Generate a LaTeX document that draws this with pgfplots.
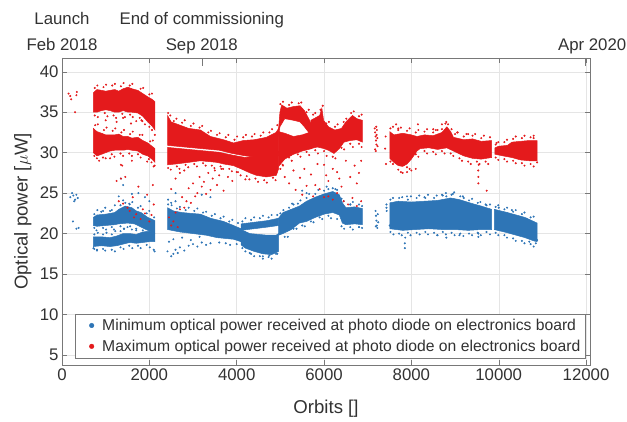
\documentclass[border=0pt]{standalone}
\usepackage{fontspec}
\setmainfont{Liberation Sans}
\usepackage{pgfplots}
\pgfplotsset{compat=1.18}
\definecolor{mblue}{RGB}{46,117,182}
\definecolor{mred}{RGB}{228,26,28}
\definecolor{axgray}{RGB}{120,120,120}
\definecolor{txtgray}{RGB}{50,50,50}
\newcommand{\dstrut}{\rule[-3.5pt]{0pt}{3.5pt}}
\pgfplotsset{
  common/.style={
    at={(0,0)}, anchor=south west,
    scale only axis, width=528pt, height=307pt,
    xmin=0, xmax=12090, ymin=3.76, ymax=41.7,
    scaled x ticks=false, scaled y ticks=false,
    axis line style={axgray},
    every tick/.style={axgray},
    /pgf/number format/assume math mode=true,
    ticklabel style={font=\fontsize{16.8}{18}\selectfont, text=txtgray},
  },
  fillred/.style={fill=mred, draw=mred, line width=0.5pt, forget plot},
  fillblue/.style={fill=mblue, draw=mblue, line width=0.5pt, forget plot},
  pts/.style={only marks, mark=*, mark size=0.8pt, mark options={draw=none}},
}
\begin{document}
\begin{tikzpicture}
\path[use as bounding box] (-62pt,-57pt) rectangle (565pt,365pt);
\begin{axis}[common,
  xtick={0,2000,...,12000}, ytick={5,10,...,40},
  xticklabel style={/pgf/number format/1000 sep={}},
  major tick length=5pt,
  grid=major, grid style={black!10},
  xlabel={Orbits []}, ylabel={Optical power [$\mu$W]},
  label style={font=\fontsize{18.6}{20}\selectfont, text=txtgray},
  xlabel style={at={(axis description cs:0.5,-0.143)}, anchor=center},
  ylabel style={at={(axis description cs:-0.074,0.5)}, anchor=center},
  legend style={at={(axis description cs:0.0246,0.0228)}, anchor=south west,
    draw=axgray, font=\fontsize{15.7}{16}\selectfont, text=txtgray,
    row sep=4pt, inner xsep=3pt, inner ysep=3pt},
  legend cell align=left,
  legend image code/.code={\path[draw=none] (0pt,0pt) -- (22pt,0pt); \fill (13.5pt,0pt) circle (2.3pt);},
]
% --- dense cores, maximum (red)
\addplot[fillred] coordinates {(717,37.4)(800,37.8)(906,37.7)(1000,37.6)(1100,37.7)(1208,37.8)(1300,37.6)(1400,37.9)(1510,38.1)(1600,37.9)(1737,37.7)(1850,37.3)(1963,36.9)(2060,36.6)(2129,36.3)
 (2129,32.8)(2060,33.3)(1963,33.8)(1850,34.5)(1737,34.9)(1600,35.0)(1510,35.0)(1400,35.2)(1300,35.0)(1208,35.0)(1100,35.2)(1000,35.3)(906,35.2)(800,35.0)(717,35.0)} --cycle;
\addplot[fillred] coordinates {(717,33.0)(800,32.6)(906,32.4)(1000,32.2)(1100,32.2)(1208,32.2)(1300,32.3)(1400,32.0)(1510,32.0)(1600,31.8)(1737,31.9)(1850,31.5)(1963,31.2)(2060,30.8)(2129,30.5)
 (2129,28.8)(2060,29.2)(1963,29.6)(1850,29.8)(1737,30.2)(1600,30.3)(1510,30.4)(1400,30.3)(1300,30.3)(1208,30.3)(1100,30.2)(1000,30.0)(906,29.8)(800,29.6)(717,30.0)} --cycle;
\addplot[fillred] coordinates {(2416,34.6)(2500,33.8)(2700,33.4)(2900,33.0)(3171,32.8)(3400,32.0)(3700,31.6)(3926,31.2)(4150,31.5)(4400,31.6)(4681,31.9)(4900,32.5)(4960,33.0)
 (4960,29.6)(4700,29.6)(4400,29.5)(4200,29.6)(3900,29.9)(3600,30.3)(3000,30.6)(2416,30.9)} --cycle;
\addplot[fillred] coordinates {(2416,30.65)(3000,30.35)(3600,30.05)(3900,29.7)(4200,29.4)(4600,29.8)(4960,30.2)
 (4960,28.0)(4908,27.2)(4681,27.0)(4450,27.2)(4304,27.5)(4100,28.0)(3926,28.4)(3700,28.6)(3549,28.8)(3171,29.0)(2900,28.8)(2600,28.6)(2416,28.5)} --cycle;
\addplot[fillred] coordinates {(4960,33.0)(4990,35.0)(5030,35.9)(5150,35.5)(5300,35.7)(5450,35.8)(5550,35.2)(5650,34.2)(5720,33.4)
 (5720,31.8)(5650,32.5)(5550,33.2)(5450,33.8)(5300,34.0)(5100,34.2)(4990,33.2)(4960,32.0)} --cycle;
\addplot[fillred] coordinates {(4960,32.6)(5100,32.4)(5300,32.0)(5500,32.2)(5720,32.6)
 (5720,30.5)(5500,30.2)(5300,29.8)(5100,29.2)(4960,28.3)} --cycle;
\addplot[fillred] coordinates {(5696,34.0)(5800,34.3)(5900,34.6)(5950,35.5)(5990,34.0)(6100,33.2)(6250,32.8)(6400,33.0)(6500,33.8)(6650,34.6)(6750,34.2)(6880,34.0)
 (6880,31.3)(6750,31.6)(6600,31.5)(6456,31.3)(6350,30.5)(6228,29.9)(6100,30.3)(6000,30.5)(5850,30.7)(5696,30.5)} --cycle;
\addplot[fillred] coordinates {(7505,32.6)(7600,32.2)(7800,32.4)(8000,32.2)(8128,32.0)(8300,32.2)(8500,32.1)(8700,32.5)(8812,33.2)(8900,32.6)(8964,31.9)(9200,31.6)(9400,31.7)(9600,31.4)(9838,31.5)
 (9838,29.4)(9600,29.2)(9400,29.3)(9200,29.6)(8964,30.2)(8812,30.6)(8600,30.4)(8400,30.6)(8200,30.5)(8128,30.2)(8000,29.2)(7900,28.6)(7800,28.3)(7700,28.4)(7600,28.8)(7505,29.3)} --cycle;
\addplot[fillred] coordinates {(9914,30.6)(10000,30.8)(10200,30.9)(10300,31.3)(10500,31.4)(10700,31.5)(10880,31.5)
 (10880,29.0)(10700,29.0)(10500,29.1)(10300,29.4)(10100,29.6)(9914,29.8)} --cycle;
% --- dense cores, minimum (blue)
\addplot[fillblue] coordinates {(717,22.0)(800,22.3)(1000,22.4)(1208,22.6)(1300,23.0)(1450,23.4)(1600,23.2)(1700,22.8)(1812,22.6)(1963,22.0)(2129,21.6)
 (2129,20.0)(1963,20.4)(1812,20.8)(1661,21.2)(1500,21.3)(1300,21.2)(1208,21.1)(1000,21.0)(800,20.9)(717,21.0)} --cycle;
\addplot[fillblue] coordinates {(717,19.6)(900,19.6)(1100,19.5)(1250,19.7)(1400,20.0)(1550,20.0)(1700,19.9)(1850,20.2)(2000,20.3)(2129,20.0)
 (2129,19.0)(2000,19.0)(1850,18.9)(1700,18.8)(1550,18.9)(1400,18.7)(1250,18.5)(1100,18.4)(900,18.5)(717,18.4)} --cycle;
\addplot[fillblue] coordinates {(2416,23.2)(2550,22.8)(2750,22.6)(2950,22.5)(3171,22.4)(3400,21.9)(3700,21.5)(3926,21.0)(4100,20.6)
 (4100,19.0)(3926,19.3)(3550,19.5)(3300,19.8)(3000,20.0)(2700,20.2)(2416,20.5)} --cycle;
\addplot[fillblue] coordinates {(4100,20.5)(4300,20.0)(4500,19.9)(4700,19.8)(4900,19.8)(4960,20.0)
 (4960,17.8)(4800,17.4)(4600,17.5)(4400,17.8)(4200,18.2)(4100,18.6)} --cycle;
\addplot[fillblue] coordinates {(4100,21.2)(4400,21.4)(4700,21.6)(4960,21.9)
 (4960,21.0)(4700,20.8)(4400,20.6)(4100,20.4)} --cycle;
\addplot[fillblue] coordinates {(4960,21.9)(5059,22.6)(5250,23.0)(5436,23.4)(5600,24.0)(5800,24.5)(6000,24.9)(6200,25.2)(6350,24.8)(6420,23.8)(6500,23.2)(6700,23.3)(6880,23.1)
 (6880,21.1)(6700,21.2)(6500,21.1)(6420,21.3)(6350,22.3)(6200,22.6)(6000,22.4)(5800,22.0)(5600,21.5)(5436,21.3)(5250,20.5)(5059,20.0)(4960,19.8)} --cycle;
\addplot[fillblue] coordinates {(7505,23.8)(7700,24.0)(8000,23.9)(8300,24.0)(8600,24.1)(8900,24.4)(9100,24.2)(9400,23.7)(9600,23.4)(9838,23.0)
 (9838,20.5)(9600,20.5)(9300,20.4)(9000,20.5)(8700,20.5)(8400,20.6)(8100,20.5)(7800,20.4)(7505,20.6)} --cycle;
\addplot[fillblue] coordinates {(9900,23.0)(10050,22.8)(10200,22.6)(10400,22.3)(10600,22.0)(10800,21.5)(10880,21.3)
 (10880,19.0)(10800,19.1)(10600,19.5)(10400,19.8)(10200,20.1)(10050,20.3)(9900,20.5)} --cycle;
% --- individual samples, minimum (blue)
\addplot[pts, mblue] coordinates {
(190,24.5)(230,25.0)(260,24.7)(300,24.2)(330,24.8)(280,24.0)(360,24.4)(250,21.5)(330,20.6)(380,20.7)
(800,18.0)(720,18.2)(1300,24.6)(1350,26.8)(1400,26.0)(1600,24.9)(1750,25.0)(1900,24.5)(2000,24.0)(2100,18.0)(2120,17.8)
(1500,20.8)(1600,20.5)(1700,20.4)(1800,21.0)(1950,21.2)(2050,20.6)(1450,23.8)(1550,23.6)(900,22.7)(1100,22.8)
(2416,17.8)(2500,17.2)(2550,17.5)(2600,18.0)(2650,17.6)(2700,18.3)(2800,17.9)(2900,18.5)(3000,18.7)(3100,18.4)(3200,18.9)(3300,18.6)(3400,18.8)(3600,18.9)
(2450,19.0)(2550,19.3)(2750,19.5)(2950,19.2)(3150,19.6)(2500,23.8)(2430,24.2)(2600,24.0)(2600,25.0)(3200,24.8)(3400,24.5)
(3750,18.8)(3850,18.6)(4000,18.7)(4300,17.6)(4600,17.2)(4750,17.3)(4900,17.5)
(5500,25.3)(5600,25.0)(5300,23.6)(6100,25.5)(6300,25.4)(6600,23.6)(6800,20.8)
(7180,22.8)(7190,22.2)(7200,21.6)(7210,21.0)(7220,20.7)(7230,22.4)(7240,21.4)(7185,20.9)
(7430,23.6)(7430,23.2)(7435,22.8)
(7850,18.2)(7850,18.8)(7860,19.5)(8800,19.5)(9534,19.6)(9534,20.0)(9100,19.8)(7505,21.0)(8600,19.8)
(7900,24.6)(8300,24.5)(8700,24.8)(8950,24.9)(8800,24.6)(9200,24.4)(9700,23.6)
(10000,23.2)(10300,22.9)(10700,19.0)(10850,18.8)(10880,19.2)
(740,22.4)(810,22.9)(940,22.8)(990,23.2)(1140,22.9)(1210,23.5)(1340,23.5)(1400,24.1)(1540,23.7)(1610,23.9)(1740,23.2)(1800,23.4)(1940,22.5)(2000,22.8)(2110,22.0)
(740,20.7)(790,20.4)(940,20.7)(1010,20.5)(1140,20.8)(1190,20.5)(1340,20.9)(1420,20.6)(1560,20.9)(1700,20.6)(1850,20.4)
(740,19.9)(820,20.1)(940,19.9)(1020,20.1)(1140,19.9)(1220,20.3)(1340,20.3)(1420,20.6)
(740,18.1)(800,17.9)(940,18.1)(990,17.9)(1140,18.0)(1210,17.8)(1340,18.3)(1410,18.1)(1540,18.5)(1610,18.2)(1740,18.5)(1800,18.2)(1940,18.6)(2010,18.3)
(2430,23.6)(2510,23.5)(2630,23.1)(2700,23.3)(2830,22.9)(2900,23.2)(3030,22.8)(3100,23.1)(3230,22.6)(3300,22.7)(3430,22.2)(3500,22.4)(3630,21.9)(3700,22.1)(3830,21.5)(3900,21.7)(4030,21.3)
(4130,21.5)(4200,21.9)(4330,21.7)(4400,22.0)(4530,21.9)(4600,22.2)(4730,22.0)(4800,22.3)(4930,22.3)
(4130,18.2)(4200,17.8)(4330,17.5)(4400,17.2)(4530,17.2)(4600,16.9)(4730,17.1)(4800,16.9)(4930,17.5)
(5000,22.5)(5070,22.9)(5200,23.2)(5270,23.7)(5400,23.7)(5460,24.1)(5600,24.4)(5660,24.9)(5800,24.9)(5870,25.4)(6000,25.3)(6060,25.8)(6200,25.6)(6260,25.5)(6400,24.3)(6450,24.0)(6600,23.6)(6660,23.9)(6800,23.6)(6870,23.4)
(5100,19.6)(5170,19.6)(5300,20.6)(5370,20.6)(5500,21.0)(5560,20.9)(5700,21.5)(5760,21.4)(5900,22.0)(5960,21.8)(6100,22.2)(6160,21.9)(6300,21.8)(6400,20.9)(6460,20.6)(6600,20.8)(6660,20.5)(6800,20.8)(6870,20.7)
(7520,24.2)(7580,24.4)(7720,24.4)(7790,24.5)(7920,24.2)(7990,24.6)(8120,24.4)(8180,24.7)(8320,24.4)(8380,24.8)(8520,24.4)(8580,24.7)(8720,24.7)(8790,25.0)(8920,24.8)(8980,25.1)(9120,24.6)(9180,24.6)(9320,24.1)(9390,24.3)(9520,23.8)(9580,23.9)(9720,23.5)(9800,23.6)
(7520,20.2)(7590,19.9)(7720,20.0)(7780,19.8)(7920,20.1)(7980,19.8)(8120,20.1)(8190,19.9)(8320,20.2)(8380,19.9)(8520,20.1)(8590,19.8)(8720,20.2)(8790,19.9)(8920,20.1)(8990,19.8)(9120,20.0)(9190,19.7)(9320,20.0)(9390,19.8)(9520,20.1)(9590,19.8)(9720,20.2)(9800,19.9)
(9930,23.3)(9990,23.5)(10130,23.0)(10190,23.2)(10330,22.7)(10390,22.9)(10530,22.4)(10590,22.6)(10730,22.0)(10800,22.1)
(9930,20.1)(9990,19.8)(10130,19.8)(10190,19.5)(10330,19.4)(10390,19.1)(10530,19.1)(10590,18.8)(10730,18.7)(10800,18.4)
};
\addlegendentry{Minimum optical power received at photo diode on electronics board}
% --- individual samples, maximum (red)
\addplot[pts, mred] coordinates {
(150,37.3)(190,37.0)(210,36.6)(300,35.0)(340,37.5)(330,37.1)
(1000,34.0)(1250,33.8)(1400,34.3)(1580,33.6)(1700,33.9)(1820,34.0)(1900,33.5)
(850,29.0)(1100,29.3)(1350,28.5)(1600,29.0)(1950,28.9)(2100,28.3)
(1250,26.5)(1300,24.0)(1350,26.8)(1450,27.0)(1500,23.2)(1550,22.8)(1620,24.5)(1700,22.4)(1750,25.8)(1800,21.8)
(1850,23.0)(1900,22.5)(1950,24.8)(2000,21.5)(2050,22.3)(2100,23.6)(1400,23.7)(1650,22.0)(1380,28.4)(2080,26.0)
(2450,22.0)(2500,21.0)(2550,21.5)(2600,22.6)(2650,20.8)(2700,23.0)(2750,24.5)(2800,23.2)(2850,24.0)(2900,25.6)
(2950,23.8)(3000,26.2)(3050,24.6)(3100,25.0)(3150,27.0)(3200,25.8)(3250,26.4)(3300,24.9)(3350,27.5)(3400,25.4)
(3450,26.8)(3500,27.8)(3550,26.0)(3600,27.2)(3650,28.0)(3700,25.3)(2600,26.8)(2700,27.5)(2500,25.5)(2800,27.8)
(3800,27.0)(3900,26.5)(4000,27.6)(4200,26.7)
(5050,28.5)(5100,27.0)(5200,26.2)(5300,27.8)(5350,25.4)(5450,26.9)(5500,24.8)(5550,28.0)(5600,25.9)(5700,27.3)(5750,24.6)(5800,26.0)(5850,28.6)
(6000,28.5)(6050,27.2)(6100,26.5)(6200,28.0)(6300,27.6)(6350,26.8)(6400,25.8)(6500,29.0)(6600,27.0)(6700,28.4)(6750,26.2)(6800,27.5)(6850,29.0)
(6100,24.6)(6200,24.2)(6300,25.0)(6450,24.0)(6550,23.6)(6650,24.4)(6750,23.4)(6850,24.0)(5900,25.5)(6000,24.5)
(7160,33.0)(7170,32.5)(7180,32.0)(7190,31.5)(7200,31.0)(7170,30.4)(7210,32.8)(7220,31.8)(7225,30.8)(7185,30.2)(7195,33.2)(7205,32.2)
(7400,30.5)(7420,28.6)(7410,32.0)
(7650,33.5)(7700,33.0)(7900,27.6)(8000,27.8)(7800,27.5)(8100,28.0)(8150,33.5)(8500,32.9)(8600,32.8)(8700,33.5)(8800,33.8)(9050,32.5)(9300,32.3)
(9534,26.2)(9534,27.0)(9530,27.8)(9540,28.5)(9724,25.3)
(9950,31.2)(10800,31.8)(10880,28.8)
(750,38.0)(810,38.3)(950,38.1)(1010,38.4)(1150,38.3)(1210,38.5)(1350,38.2)(1410,38.6)(1550,38.3)(1610,38.5)(1800,37.9)(1860,38.0)(2000,37.2)(2060,37.3)
(750,34.6)(820,34.4)(980,34.9)(1040,34.5)(1180,34.6)(1240,34.3)(1380,34.8)(1440,34.4)(1560,34.7)(1620,34.4)(1780,34.3)(1840,33.9)(2000,33.2)(2060,32.8)(2125,32.2)
(760,33.4)(820,33.5)(960,32.8)(1020,33.1)(1160,32.7)(1220,33.0)(1360,32.5)(1420,32.8)(1560,32.3)(1620,32.6)(1780,32.2)(1840,32.2)(2020,31.4)(2080,31.5)
(740,29.6)(800,29.3)(940,29.4)(1000,29.3)(1140,29.8)(1200,29.5)(1340,29.9)(1400,29.6)(1540,29.9)(1600,29.6)(1740,29.8)(1800,29.4)(1990,29.2)(2050,28.8)(2120,28.4)
(2430,34.9)(2480,34.6)(2560,33.9)(2620,34.2)(2750,33.7)(2810,34.0)(2950,33.3)(3010,33.6)(3150,33.1)(3210,33.3)(3350,32.5)(3410,32.7)(3550,32.2)(3610,32.4)
(3750,31.9)(3810,32.2)(3950,31.6)(4010,32.0)(4150,31.9)(4210,32.2)(4350,32.0)(4410,32.3)(4550,32.1)(4610,32.5)(4750,32.5)(4810,32.9)(4930,33.4)
(2430,28.1)(2490,27.9)(2630,28.3)(2690,28.0)(2830,28.5)(2890,28.2)(3030,28.6)(3090,28.3)(3230,28.7)(3290,28.4)(3430,28.4)(3490,28.1)(3630,28.3)
(3690,28.0)(3830,28.0)(3890,27.7)(4030,27.6)(4090,27.2)(4230,27.1)(4290,26.7)(4430,26.8)(4490,26.4)(4630,26.6)(4690,26.3)(4830,26.9)(4890,26.6)
(5000,36.0)(5060,36.3)(5200,35.9)(5260,36.2)(5420,36.1)(5480,36.2)(5600,35.0)(5650,35.3)(5750,34.7)(5800,34.9)(5920,35.3)(5970,35.8)
(6050,33.6)(6110,33.8)(6250,33.2)(6310,33.5)(6450,33.8)(6510,34.2)(6620,34.9)(6680,35.1)(6800,34.5)(6860,34.7)
(5000,28.0)(5060,28.4)(5200,29.4)(5260,29.0)(5400,29.8)(5460,29.5)(5600,30.1)(5660,29.7)(5800,30.3)(5860,29.9)(6000,30.2)(6060,29.6)(6200,29.5)(6260,29.3)(6400,30.6)(6460,30.4)(6600,31.1)(6660,30.7)(6800,31.1)(6860,30.7)
(7520,33.0)(7580,33.2)(7700,32.8)(7760,33.1)(7900,32.7)(7960,33.0)(8100,32.5)(8160,32.8)(8300,32.6)(8360,32.9)(8500,32.5)(8560,32.8)(8700,32.9)(8780,33.6)(8840,33.5)(8920,32.9)(9000,32.3)(9060,32.5)(9200,32.0)(9260,32.3)(9400,32.1)(9460,32.3)(9600,31.8)(9660,32.1)(9800,31.9)
(7520,28.9)(7580,28.6)(7700,27.9)(7760,27.6)(7900,28.2)(7960,28.0)(8100,29.8)(8160,29.5)(8300,30.2)(8360,29.9)(8500,30.1)(8560,29.8)(8700,30.2)(8760,29.9)(8900,29.9)(8960,29.6)(9100,29.3)(9160,29.0)(9300,28.9)(9360,28.6)(9500,28.9)(9560,28.6)(9700,28.9)(9760,28.6)
(9930,31.0)(9990,31.3)(10130,31.3)(10190,31.6)(10330,31.7)(10390,32.0)(10530,31.8)(10590,32.1)(10730,31.9)(10800,32.1)
(9930,29.4)(9990,29.1)(10130,29.2)(10190,28.9)(10330,29.0)(10390,28.7)(10530,28.7)(10590,28.4)(10730,28.6)(10800,28.3)
};
\addlegendentry{Maximum optical power received at photo diode on electronics board}
\end{axis}
\begin{axis}[common,
  axis x line*=top, axis y line=none,
  xtick={0,3200,11980},
  xticklabels={{Launch\\Feb 2018\dstrut},{End of commissioning\\Sep 2018\dstrut},{\hspace*{14pt}Apr 2020\dstrut}},
  xticklabel style={align=center, font=\fontsize{16.8}{26}\selectfont},
  major tick length=8pt,
]
\end{axis}
\end{tikzpicture}
\end{document}
